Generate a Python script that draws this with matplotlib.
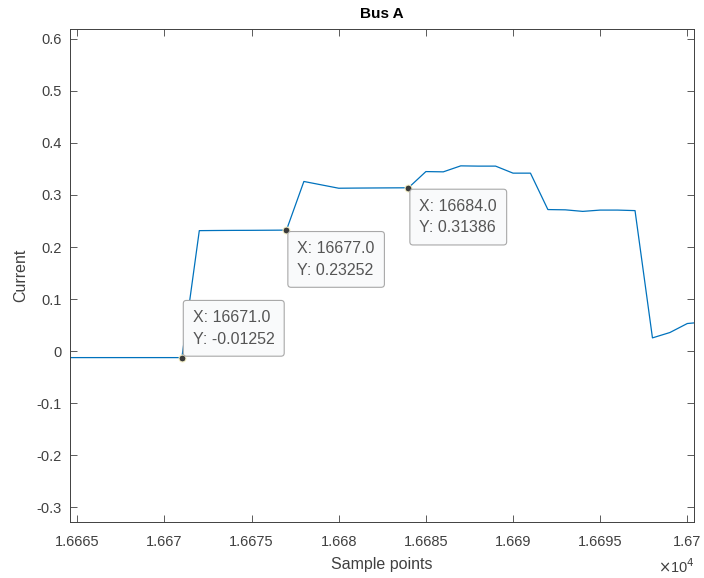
import matplotlib.pyplot as plt

plt.rcParams['font.family'] = ['Liberation Sans', 'DejaVu Sans']

# Bus A current samples
sample = [16664, 16665, 16666, 16667, 16668, 16669, 16670, 16671,
          16672, 16673, 16674, 16675, 16676, 16677, 16678, 16679,
          16680, 16681, 16682, 16683, 16684, 16685, 16686, 16687,
          16688, 16689, 16690, 16691, 16692, 16693, 16694, 16695,
          16696, 16697, 16698, 16699, 16700, 16701]
current = [-0.0125, -0.0125, -0.0125, -0.0125, -0.0125, -0.0125, -0.0125, -0.01252,
           0.2315, 0.2318, 0.2320, 0.2321, 0.2323, 0.23252, 0.3260, 0.3195,
           0.3130, 0.3133, 0.3135, 0.3137, 0.31386, 0.3450, 0.3445, 0.3560,
           0.3555, 0.3555, 0.3420, 0.3420, 0.2720, 0.2715, 0.2685, 0.2710,
           0.2710, 0.2700, 0.0254, 0.0357, 0.0530, 0.0560]

# data tips: (x, y, placement)
tips_x = [16671, 16677, 16684]
tips_y = [-0.01252, 0.23252, 0.31386]
tips_up = [True, False, False]

xticks = [16665, 16670, 16675, 16680, 16685, 16690, 16695, 16700]
xtick_labels = ['1.6665', '1.667', '1.6675', '1.668', '1.6685', '1.669', '1.6695', '1.67']
yticks = [-0.3, -0.2, -0.1, 0, 0.1, 0.2, 0.3, 0.4, 0.5, 0.6]
ytick_labels = ['-0.3', '-0.2', '-0.1', '0', '0.1', '0.2', '0.3', '0.4', '0.5', '0.6']

axcol = '#404040'

fig = plt.figure(figsize=(7.04, 5.78), dpi=100)
ax = fig.add_axes([0.0994, 0.0964, 0.8868, 0.8534])

ax.plot(sample, current, color='#0072BD', lw=0.9)

ax.set_xlim(16664.58, 16700.4)
ax.set_ylim(-0.329, 0.619)
ax.set_xticks(xticks)
ax.set_xticklabels(xtick_labels)
ax.set_yticks(yticks)
ax.set_yticklabels(ytick_labels)
ax.tick_params(direction='in', length=5, width=0.6, colors=axcol,
               labelsize=10.5, top=True, right=True)
ax.tick_params(axis='x', pad=9)
ax.tick_params(axis='y', pad=6)
for sp in ax.spines.values():
    sp.set_color(axcol)
    sp.set_linewidth(0.7)

ax.set_title('Bus A', fontsize=11, fontweight='bold', color='black', pad=8)
ax.set_xlabel('Sample points', fontsize=11.5, color=axcol, labelpad=6)
ax.set_ylabel('Current', fontsize=11.5, color=axcol, labelpad=6)
ax.text(1.0, -0.07, r'$\times$10$^4$', transform=ax.transAxes,
        ha='right', va='top', fontsize=10.5, color=axcol)

for tx, ty, up in zip(tips_x, tips_y, tips_up):
    ax.plot(tx, ty, 'o', ms=5, mfc='#3a3a3a', mec='#f5f0c8', mew=0.8, zorder=5)
    dy = 11 if up else -11
    ax.annotate(f'X: {tx:.1f}\nY: {ty:.5g}', xy=(tx, ty),
                xytext=(11, dy), textcoords='offset pixels',
                ha='left', va='bottom' if up else 'top',
                fontsize=11.5, color='#555555', linespacing=1.55,
                bbox=dict(boxstyle='round,pad=0.6,rounding_size=0.2',
                          fc='#f9fafb', ec='#a8a8a8', lw=0.8),
                zorder=6)

fig.savefig('out.png', dpi=100)
